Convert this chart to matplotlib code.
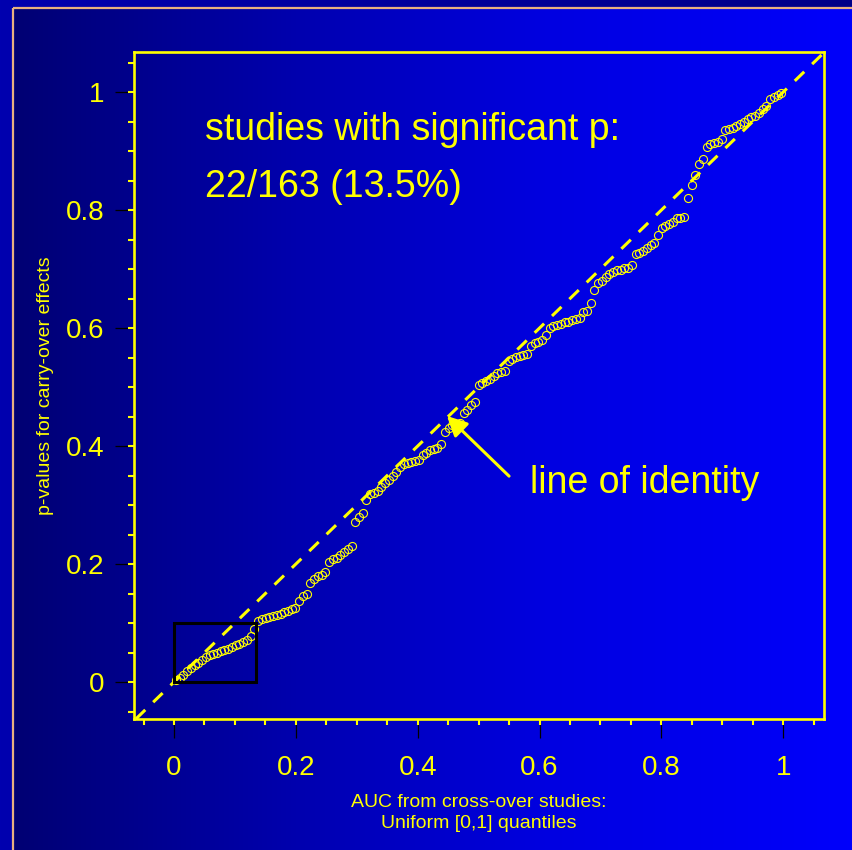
import matplotlib
matplotlib.use("Agg")
import matplotlib.pyplot as plt
import numpy as np
from matplotlib.patches import Rectangle
from matplotlib.ticker import MultipleLocator

plt.rcParams['font.family'] = ['Liberation Sans', 'DejaVu Sans']

# sorted p-values for carry-over effects
p_values = [
    0.004, 0.007, 0.012, 0.018, 0.024, 0.028, 0.033, 0.037, 0.042, 0.045,
    0.048, 0.050, 0.052, 0.054, 0.056, 0.059, 0.062, 0.065, 0.068, 0.072,
    0.078, 0.090, 0.103, 0.106, 0.108, 0.110, 0.112, 0.114, 0.116, 0.118,
    0.120, 0.123, 0.126, 0.138, 0.145, 0.150, 0.168, 0.175, 0.179, 0.182,
    0.186, 0.203, 0.208, 0.211, 0.215, 0.220, 0.225, 0.230, 0.271, 0.280,
    0.287, 0.308, 0.318, 0.321, 0.324, 0.330, 0.337, 0.343, 0.350, 0.356,
    0.365, 0.369, 0.371, 0.373, 0.375, 0.377, 0.384, 0.389, 0.393, 0.395,
    0.397, 0.404, 0.424, 0.431, 0.435, 0.437, 0.439, 0.456, 0.461, 0.470,
    0.475, 0.503, 0.507, 0.510, 0.514, 0.518, 0.523, 0.525, 0.527, 0.545,
    0.548, 0.551, 0.553, 0.555, 0.556, 0.569, 0.574, 0.576, 0.580, 0.589,
    0.600, 0.604, 0.606, 0.607, 0.610, 0.611, 0.613, 0.615, 0.617, 0.627,
    0.629, 0.642, 0.664, 0.676, 0.680, 0.687, 0.691, 0.695, 0.698, 0.699,
    0.701, 0.702, 0.707, 0.725, 0.728, 0.731, 0.736, 0.741, 0.745, 0.757,
    0.769, 0.773, 0.776, 0.779, 0.786, 0.787, 0.789, 0.821, 0.842, 0.860,
    0.878, 0.887, 0.907, 0.912, 0.914, 0.916, 0.920, 0.936, 0.938, 0.940,
    0.942, 0.946, 0.949, 0.955, 0.957, 0.960, 0.964, 0.972, 0.977, 0.989,
    0.991, 0.995, 0.998,
]
alpha = 0.1
n_sig = 22
n_total = 163
xticks = [0, 0.2, 0.4, 0.6, 0.8, 1]
yticks = [0, 0.2, 0.4, 0.6, 0.8, 1]
xtick_labels = ["0", "0.2", "0.4", "0.6", "0.8", "1"]
ytick_labels = ["0", "0.2", "0.4", "0.6", "0.8", "1"]

YELLOW = "#FFFF00"
W, H = 853, 850

p = np.array(p_values)
n = len(p)
# uniform [0,1] plotting positions for the ranks
q = (np.arange(1, n + 1) - 0.5) / n

fig = plt.figure(figsize=(W / 100, H / 100), dpi=100)

# background: slide gradient
xs = np.arange(W)
outer = np.interp(xs, [0, W], [175, 135])
inner = np.interp(xs, [14, 300, 550, 840, W], [115, 175, 225, 250, 252])
img = np.zeros((H, W, 3))
img[:, :, 2] = outer[None, :] / 255.0
img[8:, 14:, 2] = inner[None, 14:] / 255.0
ax_bg = fig.add_axes([0, 0, 1, 1])
ax_bg.imshow(img, extent=[0, W, H, 0], aspect='auto', interpolation='bilinear')
ax_bg.add_patch(Rectangle((13.5, 7.5), 1000, 1000, fill=False,
                          edgecolor="#E8B080", lw=1.6))
ax_bg.set_xlim(0, W)
ax_bg.set_ylim(H, 0)
ax_bg.axis('off')

ax = fig.add_axes([134 / W, 1 - 719 / H, 690 / W, 667 / H])
ax.set_facecolor('none')

ax.plot(q, p, 'o', ms=5.8, mfc='none', mec=YELLOW, mew=0.8, zorder=3)
ax.axline((0, 0), slope=1, color=YELLOW, lw=2.2, ls=(0, (4.3, 3.6)), zorder=2)
ax.add_patch(Rectangle((0, 0), n_sig / n_total, alpha, fill=False,
                       edgecolor='black', lw=2.2, zorder=4))

ax.set_xlim(-0.0657, 1.067)
ax.set_ylim(-0.0627, 1.068)

for s in ax.spines.values():
    s.set_color(YELLOW)
    s.set_linewidth(1.9)

ax.set_xticks(xticks)
ax.set_xticklabels(xtick_labels)
ax.set_yticks(yticks)
ax.set_yticklabels(ytick_labels)
ax.xaxis.set_minor_locator(MultipleLocator(0.05))
ax.yaxis.set_minor_locator(MultipleLocator(0.05))
ax.xaxis.remove_overlapping_locs = False
ax.yaxis.remove_overlapping_locs = False
ax.tick_params(which='major', length=14, width=0.9, color='black',
               labelcolor=YELLOW, labelsize=20)
ax.tick_params(axis='x', which='major', pad=12)
ax.tick_params(axis='y', which='major', pad=7)
ax.tick_params(which='minor', length=4.5, width=1.5, color=YELLOW)

ax.set_xlabel("AUC from cross-over studies:\nUniform [0,1] quantiles",
              color=YELLOW, fontsize=14, labelpad=9, linespacing=1.3)
ax.set_ylabel("p-values for carry-over effects", color=YELLOW,
              fontsize=14, labelpad=9)

ax.text(0.103, 0.868, "studies with significant p:", transform=ax.transAxes,
        color=YELLOW, fontsize=27, va='baseline')
ax.text(0.103, 0.783, f"{n_sig}/{n_total} ({100 * n_sig / n_total:.1f}%)",
        transform=ax.transAxes, color=YELLOW, fontsize=27, va='baseline')

ax.annotate("", xy=(0.448, 0.451), xytext=(0.550, 0.349),
            arrowprops=dict(arrowstyle='-|>,head_length=0.6,head_width=0.3',
                            color=YELLOW, lw=2.2, mutation_scale=20,
                            shrinkA=0, shrinkB=0))
ax.text(0.574, 0.339, "line of identity", transform=ax.transAxes,
        color=YELLOW, fontsize=27, va='baseline')

fig.savefig("out.png", dpi=100)
